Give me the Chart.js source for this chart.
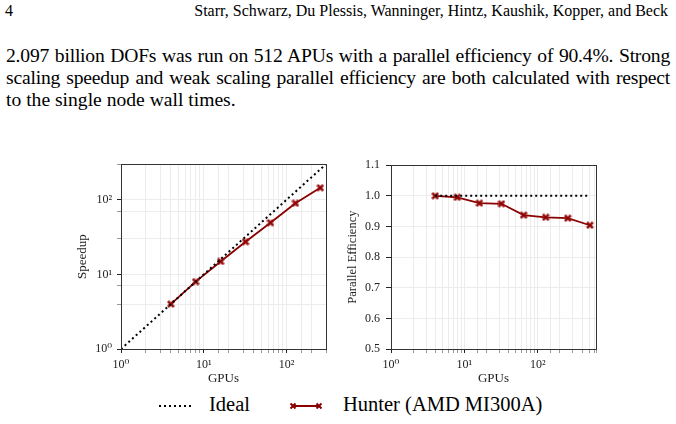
<!DOCTYPE html>
<html>
<head>
<meta charset="utf-8">
<script src="https://cdn.jsdelivr.net/npm/chart.js@4"></script>
<style>
  body { margin: 0; width: 676px; height: 424px; background: #fff; position: relative; overflow: hidden;
         font-family: "Liberation Serif", "Times New Roman", serif; color: #000; }
  .abs { position: absolute; white-space: nowrap; }
  .line { position: absolute; left: 6px; width: 664px; font-size: 19.6px; white-space: nowrap; }
  .just { text-align: justify; text-align-last: justify; letter-spacing: -0.2px; }
  canvas { position: absolute; }
  .leg { position: absolute; top: 393px; font-size: 20.5px; }
</style>
</head>
<body>
<div class="abs" style="left:5px; top:2px; font-size:16px;">4</div>
<div class="abs" style="right:8px; top:2px; font-size:16px;">Starr, Schwarz, Du Plessis, Wanninger, Hintz, Kaushik, Kopper, and Beck</div>
<div class="line just" style="top:45px;">2.097 billion DOFs was run on 512 APUs with a parallel efficiency of 90.4%. Strong</div>
<div class="line just" style="top:67px;">scaling speedup and weak scaling parallel efficiency are both calculated with respect</div>
<div class="line" style="top:89px;">to the single node wall times.</div>

<canvas id="speedupChart" width="260" height="238" style="left:75px; top:152px;"></canvas>
<canvas id="effChart" width="260" height="238" style="left:345px; top:152px;"></canvas>

<svg class="abs" style="left:158px; top:400px;" width="34" height="12">
  <line x1="1" y1="6" x2="33" y2="6" stroke="#000" stroke-width="2" stroke-dasharray="2,3"/>
</svg>
<div class="leg" style="left:209px;">Ideal</div>
<svg class="abs" style="left:288px; top:400px;" width="36" height="12">
  <line x1="5" y1="6" x2="31" y2="6" stroke="#8b0000" stroke-width="2"/>
  <path id="xm" d="M-3.2,-1.8 L-1.8,-3.2 L0,-1.4 L1.8,-3.2 L3.2,-1.8 L1.4,0 L3.2,1.8 L1.8,3.2 L0,1.4 L-1.8,3.2 L-3.2,1.8 L-1.4,0 Z" fill="#8b0000" transform="translate(5,6)"/>
  <use href="#xm" transform="translate(26,0)"/>
</svg>
<div class="leg" style="left:343px;">Hunter (AMD MI300A)</div>

<script>
// Strong scaling data (speedup vs GPU count)
const speedupGpus = [4, 8, 16, 32, 64, 128, 256];
const speedupValues = [4.0, 8.0, 14.9, 27.4, 49.3, 89.8, 145];
const idealSpeedupGpus = [1, 2, 4, 8, 16, 32, 64, 128, 256, 512];

// Weak scaling data (parallel efficiency vs GPU count)
const effGpus = [4, 8, 16, 32, 64, 128, 256, 512];
const effValues = [1.0, 0.995, 0.976, 0.974, 0.937, 0.930, 0.927, 0.904];
const idealEffGpus = [4, 512];
const idealEffValue = 1.0;

const effTicks = [0.5, 0.6, 0.7, 0.8, 0.9, 1.0, 1.1];

const RED = "#8b0000";
const FONT = "'Liberation Serif', 'DejaVu Serif', serif";
Chart.defaults.color = "#222";
Chart.defaults.font.family = FONT;

// filled "X" marker like matplotlib
function makeMarker(size, color) {
  const c = document.createElement("canvas");
  c.width = size; c.height = size;
  const g = c.getContext("2d");
  const h = size / 2, a = size * 0.45, b = size * 0.2;
  g.translate(h, h);
  g.beginPath();
  const pts = [[-a, -a + b], [-a + b, -a], [0, -b], [a - b, -a], [a, -a + b], [b, 0],
               [a, a - b], [a - b, a], [0, b], [-a + b, a], [-a, a - b], [-b, 0]];
  pts.forEach((p, i) => (i ? g.lineTo(p[0], p[1]) : g.moveTo(p[0], p[1])));
  g.closePath();
  g.fillStyle = color;
  g.fill();
  g.strokeStyle = "#b03030";
  g.lineWidth = 0.6;
  g.stroke();
  return c;
}
const marker = makeMarker(8, RED);

const SUP = { "0": "\u2070", "1": "\u00b9", "2": "\u00b2", "3": "\u00b3" };
function isMajor(v) {
  const e = Math.log10(v);
  return Math.abs(e - Math.round(e)) < 1e-9;
}
function powLabel(v) {
  return isMajor(v) ? "10" + SUP[String(Math.round(Math.log10(v)))] : "";
}

// draws the full box around the plot area
const frame = {
  id: "frame",
  afterDatasetsDraw(chart) {
    const a = chart.chartArea, g = chart.ctx;
    g.save();
    g.strokeStyle = "#333";
    g.lineWidth = 1;
    g.strokeRect(Math.round(a.left) + 0.5, Math.round(a.top) + 0.5,
                 Math.round(a.right - a.left), Math.round(a.bottom - a.top));
    g.restore();
  },
};

const tickCol = (c) => (c.tick && isMajor(c.tick.value) ? "#222" : "#999");

function logX(max) {
  return {
    type: "logarithmic",
    min: 1,
    max: max,
    border: { display: false },
    grid: { color: "#ececec", lineWidth: 1, tickLength: 4, tickColor: tickCol },
    ticks: {
      autoSkip: false,
      maxRotation: 0,
      padding: 5,
      font: { size: 12 },
      callback: (v) => powLabel(v),
    },
    title: { display: true, text: "GPUs", font: { size: 13 }, padding: { top: 0, bottom: 4 } },
    afterFit: (s) => { s.height = 41; },
  };
}

new Chart(document.getElementById("speedupChart"), {
  type: "line",
  data: {
    datasets: [
      {
        label: "Ideal",
        data: idealSpeedupGpus.map((g) => ({ x: g, y: g })),
        borderColor: "#000",
        borderWidth: 2,
        borderDash: [2, 3],
        pointRadius: 0,
      },
      {
        label: "Hunter (AMD MI300A)",
        data: speedupGpus.map((g, i) => ({ x: g, y: speedupValues[i] })),
        borderColor: RED,
        borderWidth: 1.8,
        pointStyle: marker,
        pointRadius: 4,
      },
    ],
  },
  options: {
    responsive: false,
    animation: false,
    layout: { padding: { top: 5, right: 9, left: 0, bottom: 0 } },
    plugins: { legend: { display: false }, tooltip: { enabled: false } },
    scales: {
      x: logX(300),
      y: {
        type: "logarithmic",
        min: 1,
        max: 300,
        border: { display: false },
        grid: { color: "#ececec", tickLength: 4, tickColor: tickCol },
        ticks: { padding: 5, font: { size: 12 }, callback: (v) => powLabel(v) },
        title: { display: true, text: "Speedup", font: { size: 13 }, padding: { top: 0, bottom: 4 } },
        afterFit: (s) => { s.width = 46; },
      },
    },
  },
  plugins: [frame],
});

new Chart(document.getElementById("effChart"), {
  type: "line",
  data: {
    datasets: [
      {
        label: "Ideal",
        data: idealEffGpus.map((g) => ({ x: g, y: idealEffValue })),
        borderColor: "#000",
        borderWidth: 2,
        borderDash: [2, 3],
        pointRadius: 0,
      },
      {
        label: "Hunter (AMD MI300A)",
        data: effGpus.map((g, i) => ({ x: g, y: effValues[i] })),
        borderColor: RED,
        borderWidth: 1.8,
        pointStyle: marker,
        pointRadius: 4,
      },
    ],
  },
  options: {
    responsive: false,
    animation: false,
    layout: { padding: { top: 5, right: 9, left: 0, bottom: 0 } },
    plugins: { legend: { display: false }, tooltip: { enabled: false } },
    scales: {
      x: logX(620),
      y: {
        type: "linear",
        min: effTicks[0],
        max: effTicks[effTicks.length - 1],
        afterBuildTicks: (s) => { s.ticks = effTicks.map((v) => ({ value: v })); },
        border: { display: false },
        grid: { color: "#ececec", tickLength: 5, tickColor: "#222" },
        ticks: { padding: 6, font: { size: 12 }, callback: (v) => v.toFixed(1) },
        title: { display: true, text: "Parallel Efficiency", font: { size: 12.5 }, padding: { top: 0, bottom: 2 } },
        afterFit: (s) => { s.width = 46; },
      },
    },
  },
  plugins: [frame],
});
</script>
</body>
</html>
